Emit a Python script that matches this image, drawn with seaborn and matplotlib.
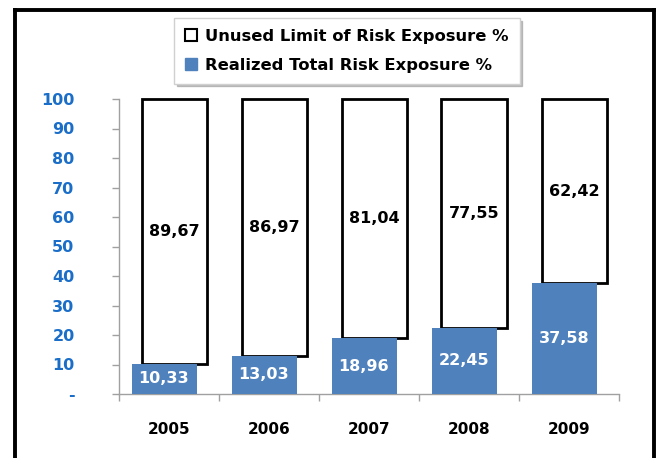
import numpy as np
import pandas as pd
import matplotlib
matplotlib.use("Agg")
import matplotlib.pyplot as plt
import seaborn as sns
from matplotlib.patches import Patch
from matplotlib.lines import Line2D

years = ["2005", "2006", "2007", "2008", "2009"]
realized = [10.33, 13.03, 18.96, 22.45, 37.58]
unused = [89.67, 86.97, 81.04, 77.55, 62.42]
y_ticks = [0, 10, 20, 30, 40, 50, 60, 70, 80, 90, 100]
y_ticklabels = ["-", "10", "20", "30", "40", "50", "60", "70", "80", "90", "100"]
legend_labels = ["Unused Limit of Risk Exposure %", "Realized Total Risk Exposure %"]

BLUE = "#4F81BD"
TICK_BLUE = "#1A6EC8"

sns.set_style("white")
plt.rcParams["font.family"] = ["DejaVu Sans"]

df = pd.DataFrame({"year": years, "realized": realized, "unused": unused})

fig = plt.figure(figsize=(6.6, 4.58), dpi=100)
ax = fig.add_axes([119 / 660, 1 - 394 / 458, 500 / 660, 295 / 458])

sns.barplot(data=df, x="year", y="unused", color="white", edgecolor="black",
            linewidth=2.0, width=0.65, saturation=1, ax=ax)
n = len(years)
white_patches = list(ax.patches[:n])
sns.barplot(data=df, x="year", y="realized", color=BLUE, edgecolor="none",
            linewidth=0, width=0.65, saturation=1, ax=ax)
blue_patches = list(ax.patches[n:2 * n])

shift = 0.05
for p, base in zip(white_patches, df["realized"]):
    p.set_y(base)
    p.set_x(p.get_x() + shift)
    p.set_clip_on(False)
    p.set_zorder(2)
for p in blue_patches:
    p.set_x(p.get_x() - shift)
    p.set_zorder(3)

def fmt(v):
    return f"{v:.2f}".replace(".", ",")

for p, v in zip(white_patches, df["unused"]):
    ax.text(p.get_x() + p.get_width() / 2, p.get_y() + p.get_height() / 2, fmt(v),
            ha="center", va="center", fontsize=11.5, fontweight="bold", color="black", zorder=5)
for p, v in zip(blue_patches, df["realized"]):
    ax.text(p.get_x() + p.get_width() / 2, p.get_y() + p.get_height() / 2, fmt(v),
            ha="center", va="center", fontsize=11.5, fontweight="bold", color="white", zorder=5)

ax.set_xlim(-0.5, n - 0.5)
ax.set_ylim(0, 100)
ax.set_xlabel("")
ax.set_ylabel("")

ax.set_yticks(y_ticks)
ax.set_yticklabels(y_ticklabels, fontsize=11.5, fontweight="bold", color=TICK_BLUE)
ax.tick_params(axis="y", which="major", length=5, width=1, color="#A0A0A0",
               direction="out", pad=27, left=True)

ax.set_xticks(np.arange(-0.5, n, 1.0))
ax.set_xticklabels([""] * (n + 1))
ax.set_xticks(np.arange(n), minor=True)
ax.set_xticklabels(years, minor=True, fontsize=11, fontweight="bold", color="black")
ax.tick_params(axis="x", which="major", length=5, width=1, color="#A0A0A0",
               direction="out", bottom=True)
ax.tick_params(axis="x", which="minor", length=0, pad=20)

for s in ["top", "right"]:
    ax.spines[s].set_visible(False)
for s in ["left", "bottom"]:
    ax.spines[s].set_color("#A0A0A0")
    ax.spines[s].set_linewidth(1)
ax.grid(False)

handles = [Patch(facecolor="white", edgecolor="black", linewidth=1.5),
           Patch(facecolor=BLUE, edgecolor=BLUE)]
leg = fig.legend(handles, legend_labels, loc="center", bbox_to_anchor=(347 / 660, 1 - 51 / 458),
                 frameon=True, fancybox=False, shadow={"color": "0.6", "alpha": 0.6},
                 prop={"size": 11.8, "weight": "bold"}, labelcolor="black",
                 handlelength=0.75, handleheight=0.75,
                 handletextpad=0.5, labelspacing=0.85, borderpad=0.65, borderaxespad=0)
leg.get_frame().set_edgecolor("#D0D0D0")
leg.get_frame().set_linewidth(1)

# outer frame
lw = 2.8
fig.add_artist(Line2D([14.5 / 660, 14.5 / 660], [0, 1 - 10 / 458], color="black", lw=lw,
                      transform=fig.transFigure, solid_capstyle="projecting"))
fig.add_artist(Line2D([14.5 / 660, 653.5 / 660], [1 - 10 / 458, 1 - 10 / 458], color="black", lw=lw,
                      transform=fig.transFigure, solid_capstyle="projecting"))
fig.add_artist(Line2D([653.5 / 660, 653.5 / 660], [0, 1 - 10 / 458], color="black", lw=lw,
                      transform=fig.transFigure, solid_capstyle="projecting"))

fig.savefig("out.png", dpi=100)
